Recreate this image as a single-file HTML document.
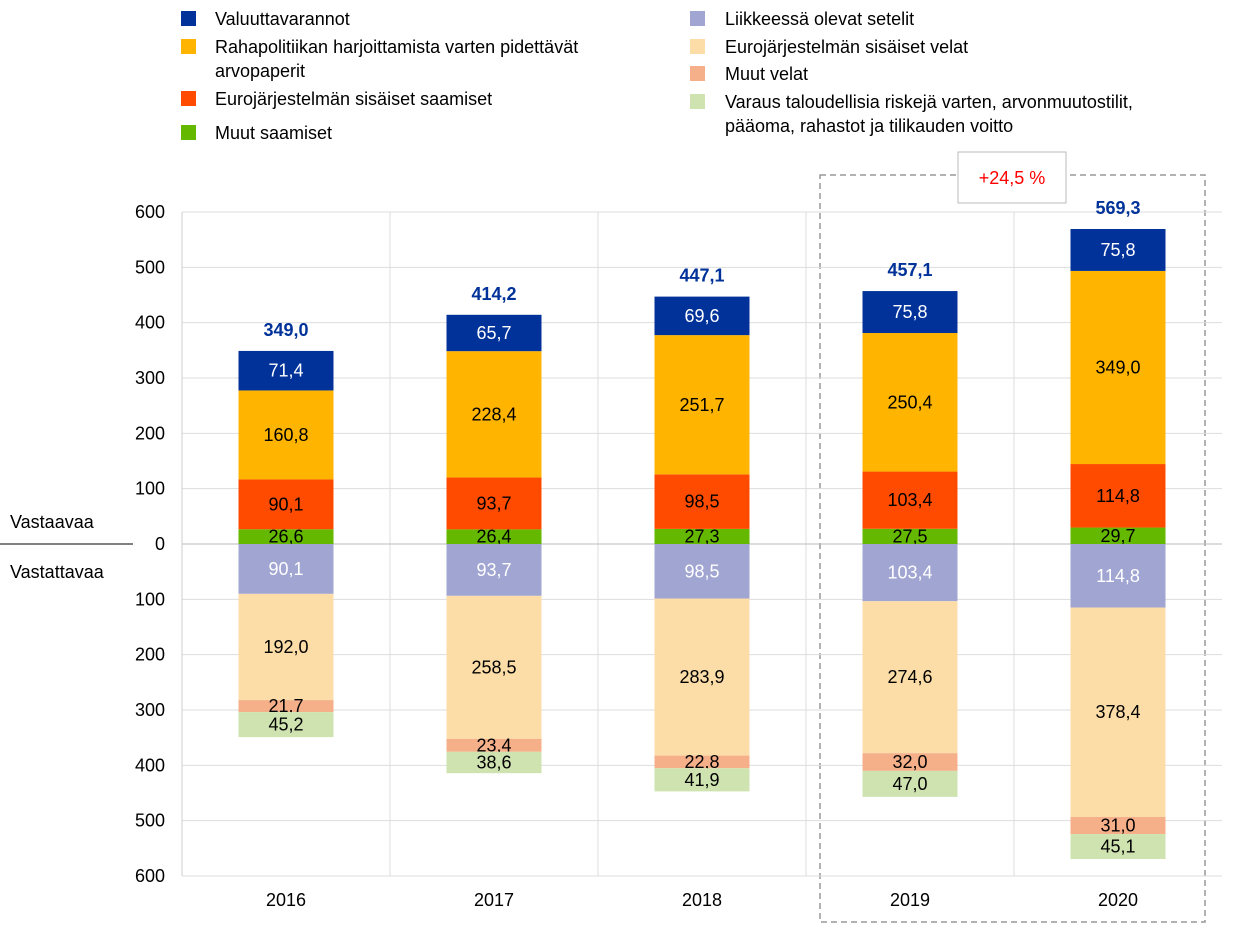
<!DOCTYPE html>
<html><head><meta charset="utf-8"><style>
body{margin:0;background:#fff;width:1240px;height:927px;overflow:hidden}
svg{font-family:"Liberation Sans",Arial,sans-serif}
</style></head><body>
<svg id="s" width="1240" height="927" xmlns="http://www.w3.org/2000/svg">
<g font-size="18" fill="#000">
<rect x="181" y="11" width="15" height="15" fill="#003299"/><text x="215" y="25">Valuuttavarannot</text>
<rect x="181" y="39" width="15" height="15" fill="#FFB400"/><text x="215" y="53">Rahapolitiikan harjoittamista varten pidettävät</text><text x="215" y="77">arvopaperit</text>
<rect x="181" y="91" width="15" height="15" fill="#FF4B00"/><text x="215" y="105">Eurojärjestelmän sisäiset saamiset</text>
<rect x="181" y="125" width="15" height="15" fill="#65B800"/><text x="215" y="139">Muut saamiset</text>
<rect x="690" y="11" width="15" height="15" fill="#A0A5D2"/><text x="725" y="25">Liikkeessä olevat setelit</text>
<rect x="690" y="39" width="15" height="15" fill="#FDDDA7"/><text x="725" y="53">Eurojärjestelmän sisäiset velat</text>
<rect x="690" y="66" width="15" height="15" fill="#F5B08A"/><text x="725" y="80">Muut velat</text>
<rect x="690" y="94" width="15" height="15" fill="#CFE3B0"/><text x="725" y="108">Varaus taloudellisia riskejä varten, arvonmuutostilit,</text><text x="725" y="132">pääoma, rahastot ja tilikauden voitto</text>
<text x="10" y="528">Vastaavaa</text>
<line x1="0" y1="544" x2="133" y2="544" stroke="#000" stroke-width="1"/>
<text x="10" y="578">Vastattavaa</text>
</g>
<rect x="820" y="175" width="385" height="747" fill="none" stroke="#999" stroke-width="1.5" stroke-dasharray="6,4"/>
<rect x="958" y="152" width="108" height="51" fill="#fff" stroke="#bbb"/>
<text x="1012" y="184" font-size="18" fill="#FF0000" text-anchor="middle">+24,5 %</text>
<g id="g"></g>
</svg>
<script>
var g=document.getElementById('g'),h='';
var k=332/600,z=544,L=182,R=1222,W=208;
for(var v=-600;v<=600;v+=100){var y=z-v*k;
 h+='<line x1="'+L+'" y1="'+y+'" x2="'+R+'" y2="'+y+'" stroke="#ddd"/>';
 h+='<text x="165" y="'+(y+6)+'" font-size="18" text-anchor="end">'+Math.abs(v)+'</text>';}
for(var i=1;i<5;i++){var x=L+i*W;h+='<line x1="'+x+'" y1="212" x2="'+x+'" y2="876" stroke="#ddd"/>';}
h+='<line x1="'+L+'" y1="212" x2="'+L+'" y2="876" stroke="#ccc"/><line x1="'+L+'" y1="544" x2="'+R+'" y2="544" stroke="#bbb"/>';
var yrs=['2016','2017','2018','2019','2020'],tot=['349,0','414,2','447,1','457,1','569,3'];
var P=[[26.6,90.1,160.8,71.4],[26.4,93.7,228.4,65.7],[27.3,98.5,251.7,69.6],[27.5,103.4,250.4,75.8],[29.7,114.8,349.0,75.8]];
var N=[[90.1,192.0,21.7,45.2],[93.7,258.5,23.4,38.6],[98.5,283.9,22.8,41.9],[103.4,274.6,32.0,47.0],[114.8,378.4,31.0,45.1]];
var pc=['#65B800','#FF4B00','#FFB400','#003299'],nc=['#A0A5D2','#FDDDA7','#F5B08A','#CFE3B0'];
var pt=['#000','#000','#000','#fff'],nt=['#fff','#000','#000','#000'];
function f(v){return v.toFixed(1).replace('.',',');}
for(var i=0;i<5;i++){var cx=L+W*i+W/2,bx=cx-47.5,c=0;
 for(var j=0;j<4;j++){var a=z-c*k;c+=P[i][j];var b=z-c*k;
  h+='<rect x="'+bx+'" y="'+b+'" width="95" height="'+(a-b)+'" fill="'+pc[j]+'"/>';
  h+='<text x="'+cx+'" y="'+((a+b)/2+6)+'" font-size="18" text-anchor="middle" fill="'+pt[j]+'">'+f(P[i][j])+'</text>';}
 h+='<text x="'+cx+'" y="'+(z-c*k-15)+'" font-size="18" font-weight="bold" text-anchor="middle" fill="#003299">'+tot[i]+'</text>';
 c=0;
 for(var j=0;j<4;j++){var a=z+c*k;c+=N[i][j];var b=z+c*k;
  h+='<rect x="'+bx+'" y="'+a+'" width="95" height="'+(b-a)+'" fill="'+nc[j]+'"/>';
  h+='<text x="'+cx+'" y="'+((a+b)/2+6)+'" font-size="18" text-anchor="middle" fill="'+nt[j]+'">'+f(N[i][j])+'</text>';}
 h+='<text x="'+cx+'" y="906" font-size="18" text-anchor="middle">'+yrs[i]+'</text>';}
g.innerHTML=h;
</script>
</body></html>
